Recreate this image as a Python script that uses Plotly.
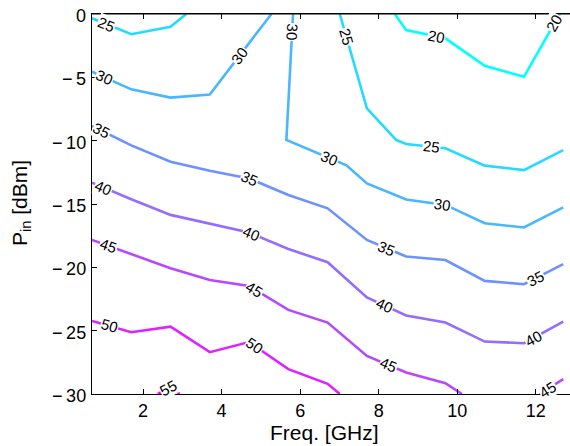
import plotly.graph_objects as go
import numpy as np

# ---------------- data ----------------
levels = [20, 25, 30, 35, 40, 45, 50, 55]

c20_x = [8.41, 8.7, 9.7, 10.7, 11.7, 12.61]
c20_y = [0.0, -1.26, -1.92, -4.09, -4.96, 0.0]

c25a_x = [0.7, 1.7, 2.7, 3.1]
c25a_y = [-0.34, -1.6, -1.0, 0.0]
c25b_x = [7.01, 7.7, 8.45, 8.7, 9.7, 10.7, 11.7, 12.7]
c25b_y = [0.0, -7.45, -9.95, -10.26, -10.6, -11.97, -12.32, -10.74]

c30a_x = [0.7, 1.7, 2.7, 3.7, 4.7, 5.27]
c30a_y = [-4.56, -5.95, -6.6, -6.35, -2.3, 0.0]
c30b_x = [5.82, 5.65, 7.18, 7.7, 8.7, 9.7, 10.7, 11.7, 12.7]
c30b_y = [0.0, -9.95, -11.95, -13.38, -14.65, -15.07, -16.52, -16.85, -15.26]

grid_x = [0.7, 1.7, 2.7, 3.7, 4.7, 5.7, 6.7, 7.7, 8.7, 9.7, 10.7, 11.7, 12.7]
c35_y = [-8.84, -10.37, -11.66, -12.37, -12.98, -14.29, -15.34, -17.84, -19.15, -19.42, -21.07, -21.33, -19.75]
c40_y = [-13.31, -14.63, -15.86, -16.57, -17.25, -18.55, -19.6, -22.38, -23.8, -24.36, -25.86, -25.99, -24.29]

c45a_x = [0.7, 1.7, 2.7, 3.7, 4.7, 5.7, 6.7, 7.7, 8.7, 9.7, 10.12]
c45a_y = [-17.84, -18.95, -20.07, -21.0, -21.47, -23.36, -24.36, -26.99, -28.3, -29.15, -30.0]
c45b_x = [12.1, 12.7]
c45b_y = [-30.0, -28.83]

c50_x = [0.7, 1.7, 2.7, 3.7, 4.7, 5.7, 6.7, 7.01]
c50_y = [-24.23, -25.12, -24.68, -26.7, -25.9, -28.04, -29.2, -30.0]

c55_x = [2.38, 2.7, 2.93]
c55_y = [-30.0, -29.45, -30.0]

paths = {
    "c20": (20, c20_x, c20_y),
    "c25a": (25, c25a_x, c25a_y),
    "c25b": (25, c25b_x, c25b_y),
    "c30a": (30, c30a_x, c30a_y),
    "c30b": (30, c30b_x, c30b_y),
    "c35": (35, grid_x, c35_y),
    "c40": (40, grid_x, c40_y),
    "c45a": (45, c45a_x, c45a_y),
    "c45b": (45, c45b_x, c45b_y),
    "c50": (50, c50_x, c50_y),
    "c55": (55, c55_x, c55_y),
}

# label placement: (path, x-position along path, or y-position for near-vertical pieces)
label_spots = [
    ("c20", "x", 9.47), ("c20", "x", 12.48),
    ("c25a", "x", 1.07), ("c25b", "y", -1.8), ("c25b", "x", 9.34),
    ("c30a", "x", 1.03), ("c30a", "x", 4.46), ("c30b", "y", -1.4),
    ("c30b", "x", 6.76), ("c30b", "x", 9.62),
    ("c35", "x", 0.95), ("c35", "x", 4.72), ("c35", "x", 8.2), ("c35", "x", 12.0),
    ("c40", "x", 0.98), ("c40", "x", 4.76), ("c40", "x", 8.16), ("c40", "x", 11.93),
    ("c45a", "x", 1.11), ("c45a", "x", 4.84), ("c45a", "x", 8.24), ("c45b", "x", 12.3),
    ("c50", "x", 1.15), ("c50", "x", 4.84),
    ("c55", "x", 2.66),
]

x_ticks = [2, 4, 6, 8, 10, 12]
y_ticks = [0, -5, -10, -15, -20, -25, -30]

# ---------------- layout constants ----------------
W, H = 570, 446
ML, MR, MT, MB = 92, 0, 14, 52
plot_w = W - ML - MR
plot_h = H - MT - MB
px_per_x = 39.27
x_range = [0.7, 0.7 + plot_w / px_per_x]
y_range = [-30, 0]
px_per_y = plot_h / (y_range[1] - y_range[0])
FONT = "Liberation Sans, Arial, Helvetica, sans-serif"


def cool(level):
    t = (level - min(levels)) / (max(levels) - min(levels))
    r, g, b = int(round(255 * t)), int(round(255 * (1 - t))), 255
    return f"rgb({r},{g},{b})"


def locate(xs, ys, mode, v):
    for i in range(len(xs) - 1):
        a, b = (xs[i], xs[i + 1]) if mode == "x" else (ys[i], ys[i + 1])
        if min(a, b) <= v <= max(a, b) and a != b:
            t = (v - a) / (b - a)
            px = xs[i] + t * (xs[i + 1] - xs[i])
            py = ys[i] + t * (ys[i + 1] - ys[i])
            dx = (xs[i + 1] - xs[i]) * px_per_x
            dy = -(ys[i + 1] - ys[i]) * px_per_y
            ang = np.degrees(np.arctan2(dy, dx))
            if ang > 95:
                ang -= 180
            if ang <= -85:
                ang += 180
            return px, py, ang
    return xs[0], ys[0], 0.0


fig = go.Figure()
for name, (lev, xs, ys) in paths.items():
    fig.add_trace(go.Scatter(
        x=xs, y=ys, mode="lines",
        line=dict(color=cool(lev), width=2.6),
        hoverinfo="skip", showlegend=False,
    ))

annotations = []
for name, mode, v in label_spots:
    lev, xs, ys = paths[name]
    lx, ly, ang = locate(xs, ys, mode, v)
    annotations.append(dict(
        x=lx, y=ly, xref="x", yref="y", text=str(lev), showarrow=False,
        textangle=ang, font=dict(family=FONT, size=15, color="black"),
        bgcolor="white", borderpad=0, xanchor="center", yanchor="middle",
    ))

# y tick labels (right-aligned just left of the axis line)
for t in y_ticks:
    annotations.append(dict(
        x=0, y=t, xref="paper", yref="y", showarrow=False,
        text=("\u2212\u2009" + str(-t)) if t < 0 else str(t),
        xanchor="right", yanchor="middle", xshift=-4, yshift=-2,
        font=dict(family=FONT, size=18, color="black"),
    ))

# axis titles (positions in screen px of the reference, converted to paper units)
title_x_px, title_x_py = 324, 432
title_y_px, title_y_py = 21, 203
annotations.append(dict(
    text="Freq. [GHz]", xref="paper", yref="paper",
    x=(title_x_px - ML) / plot_w,
    y=-(title_x_py - (MT + plot_h)) / plot_h,
    xanchor="center", yanchor="middle", showarrow=False,
    font=dict(family=FONT, size=21, color="black"),
))
annotations.append(dict(
    text="P<sub>in</sub> [dBm]", xref="paper", yref="paper",
    x=(title_y_px - ML) / plot_w,
    y=1 - (title_y_py - MT) / plot_h,
    xanchor="center", yanchor="middle", showarrow=False, textangle=-90,
    font=dict(family=FONT, size=21, color="black"),
))

fig.update_layout(
    width=W, height=H,
    margin=dict(l=ML, r=MR, t=MT, b=MB, pad=0),
    paper_bgcolor="white", plot_bgcolor="white",
    annotations=annotations,
    shapes=[dict(type="line", xref="paper", yref="paper", x0=0, x1=1, y0=1, y1=1,
                 line=dict(color="black", width=1), layer="above")],
    xaxis=dict(
        range=x_range, tickvals=x_ticks, ticktext=[str(t) for t in x_ticks],
        ticks="inside", ticklen=5, tickcolor="black", tickwidth=1,
        showline=True, linecolor="black", linewidth=1, mirror="ticks",
        showgrid=False, zeroline=False,
        tickfont=dict(family=FONT, size=18, color="black"),
    ),
    yaxis=dict(
        range=y_range, tickvals=y_ticks, showticklabels=False,
        ticks="inside", ticklen=5, tickcolor="black", tickwidth=1,
        showline=True, linecolor="black", linewidth=1, mirror=False,
        showgrid=False, zeroline=False,
    ),
)

fig.write_html(
    "out.html",
    config={"displayModeBar": False, "staticPlot": True},
    post_script="document.body.style.margin='0';document.body.style.overflow='hidden';",
)
